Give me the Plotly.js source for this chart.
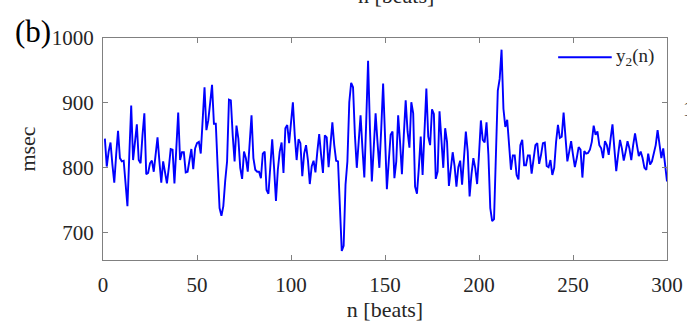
<!DOCTYPE html>
<html>
<head>
<meta charset="utf-8">
<script src="https://cdn.plot.ly/plotly-3.0.1.min.js"></script>
<style>html,body{margin:0;padding:0;background:#fff;}#chart{width:687px;height:326px;}</style>
</head>
<body>
<div id="chart"></div>
<script>
// RR interval series y2(n) in msec, beats n = 1..300
const rrPart1 = [845,802,825,839,805,777,820,857,815,810, 811,780,741,820,896,812,840,867,812,807,
  850,884,790,792,807,811,794,820,847,810, 777,810,795,776,800,829,828,776,830,885,
  812,824,824,793,794,815,829,798,830,838, 840];
const rrPart2 = [822,870,924,858,873,900,928,868,868,800, 738,726,741,780,810,905,904,850,810,865,
  845,800,783,825,815,794,835,881,815,797, 794,794,784,822,825,766,760,800,844,800,
  749,797,825,839,792,861,866,838,870,901];
const rrPart3 = [850,812,844,838,787,822,835,812,775,802, 811,793,825,852,820,792,850,847,801,835,
  870,835,811,810,738,672,680,774,810,901, 931,924,850,800,840,881,830,785,870,965,
  860,779,830,884,840,800,860,930,850,767];
const rrPart4 = [810,851,856,784,810,881,840,790,850,904, 856,831,901,884,771,760,800,848,789,850,
  922,848,835,890,883,783,794,887,850,800, 861,840,772,795,824,803,771,801,811,774,
  815,856,825,756,790,815,800,775,820,873];
const rrPart5 = [843,839,870,820,738,718,721,820,919,937, 982,891,863,874,835,797,819,819,789,782,
  835,843,804,804,819,819,791,812,835,838, 806,820,838,839,803,801,812,789,800,840,
  866,846,848,885,840,810,825,841,820,801];
const rrPart6 = [815,832,828,785,826,822,823,828,840,865, 851,856,835,830,815,841,835,820,845,867,
  830,795,820,843,830,811,825,841,830,812, 835,853,835,818,825,815,800,797,822,805,
  810,825,835,858,840,815,830,800,779];
const y2 = [].concat(rrPart1, rrPart2, rrPart3, rrPart4, rrPart5, rrPart6);
const beats = y2.map((_, i) => i + 1);

const xTicks = [0, 50, 100, 150, 200, 250, 300];
const yTicks = [700, 800, 900, 1000];
const seriesName = 'y<sub>2</sub>(n)';
const xTitle = 'n [beats]';
const yTitle = 'msec';
const panelLabel = '(b)';

const serif = 'Liberation Serif, Times New Roman, serif';
const axisCommon = {
  showgrid: false, zeroline: false, showline: true, mirror: 'ticks',
  linecolor: '#808080', linewidth: 1, ticks: 'inside', ticklen: 5, tickcolor: '#808080',
  tickfont: {family: serif, size: 21, color: '#262626'}
};

const trace = {
  x: beats, y: y2, type: 'scatter', mode: 'lines', name: seriesName,
  line: {color: '#0000ff', width: 1.9}, showlegend: false
};

const layout = {
  width: 687, height: 326,
  margin: {l: 103, r: 20, t: 38, b: 66},
  paper_bgcolor: '#ffffff', plot_bgcolor: '#ffffff',
  font: {family: serif, color: '#262626'},
  xaxis: Object.assign({}, axisCommon, {
    range: [0, 300], tickvals: xTicks, ticktext: xTicks.map(String),
    ticklabelstandoff: 6,
    title: {text: xTitle, font: {family: serif, size: 22, color: '#262626'}, standoff: 4}
  }),
  yaxis: Object.assign({}, axisCommon, {
    range: [658, 1000], tickvals: yTicks, ticktext: yTicks.map(String),
    ticklabelstandoff: 4,
    title: {text: yTitle, font: {family: serif, size: 22, color: '#262626'}, standoff: 10}
  }),
  shapes: [
    {type: 'line', xref: 'paper', yref: 'paper', x0: 0.807, x1: 0.902, y0: 0.913, y1: 0.913,
     line: {color: '#0000ff', width: 1.9}}
  ],
  annotations: [
    {text: seriesName, xref: 'paper', yref: 'paper', x: 0.906, y: 0.913, xanchor: 'left', yanchor: 'middle',
     showarrow: false, font: {family: serif, size: 19, color: '#262626'}},
    {text: panelLabel, xref: 'paper', yref: 'paper', x: -0.16, y: 1.03, xanchor: 'left', yanchor: 'middle',
     showarrow: false, font: {family: serif, size: 31, color: '#000000'}},
    {text: xTitle, xref: 'paper', yref: 'paper', x: 0.52, y: 1.125, xanchor: 'center', yanchor: 'bottom',
     showarrow: false, font: {family: serif, size: 22, color: '#262626'}},
    {text: '(c)', xref: 'paper', yref: 'paper', x: -0.168, y: -0.27, xanchor: 'left', yanchor: 'top',
     showarrow: false, font: {family: serif, size: 31, color: '#000000'}},
    {text: '1', xref: 'paper', yref: 'paper', x: 1.025, y: 0.68, xanchor: 'left', yanchor: 'middle',
     showarrow: false, font: {family: serif, size: 21, color: '#262626'}}
  ]
};

Plotly.newPlot('chart', [trace], layout, {displayModeBar: false, staticPlot: true});
</script>
</body>
</html>
